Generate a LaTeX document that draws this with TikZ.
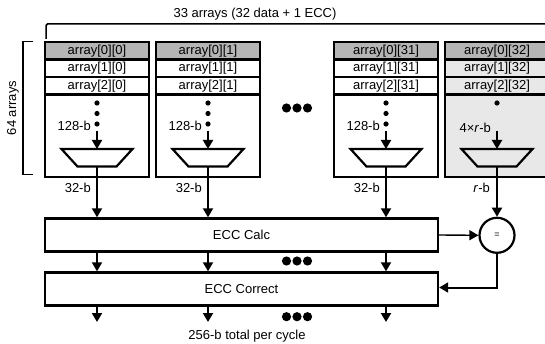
\documentclass[tikz,border=0pt]{standalone}
\usepackage{fontspec}
\setmainfont{Liberation Sans}
\usetikzlibrary{arrows.meta,shapes.geometric}
\definecolor{hdrgray}{HTML}{B5B5B5}
\definecolor{eccgray}{HTML}{E8E8E8}
\begin{document}
\begin{tikzpicture}[x=1pt,y=-1pt,
  font=\fontsize{13}{15}\selectfont,
  colbox/.style={draw, line width=2.6pt, minimum width=104pt, minimum height=135pt, inner sep=0pt},
  rowbox/.style={draw, line width=2.2pt, minimum width=104pt, minimum height=17.5pt, inner sep=0pt},
  blockbox/.style={draw, line width=2.4pt, minimum width=393pt, minimum height=33pt, inner sep=0pt},
  muxshape/.style={draw, line width=2.2pt, line join=miter},
  arr/.style={line width=2pt, -{Triangle[length=9pt,width=10pt]}},
  thinarr/.style={line width=1.4pt, -{Triangle[length=9pt,width=10pt]}},
  bigdot/.style={fill=black, draw=none},
  smalldot/.style={fill=black, draw=none},
  lbl/.style={inner sep=0pt, anchor=east}]
\useasboundingbox (0,0) rectangle (545,344);

% top bracket
\node[inner sep=0pt] (toptext) at (255,14) {33 arrays (32 data + 1 ECC)};
\coordinate (tbl) at (46,39);
\coordinate (tbc) at (46,24);
\coordinate (tbr) at (560,24);
\draw[line width=1.5pt, rounded corners=1.5pt] (tbl) -- (tbc) -- (tbr);

% left brace
\node[inner sep=0pt, rotate=90] (lefttext) at (13,108) {64 arrays};
\coordinate (lb1) at (33,41.5);
\coordinate (lb2) at (23,41.5);
\coordinate (lb3) at (23,174.5);
\coordinate (lb4) at (33,174.5);
\draw[line width=1.3pt] (lb1) -- (lb2) -- (lb3) -- (lb4);

% columns
\foreach \cx/\id/\lab/\fillc in {97/1/0/white, 208/2/1/white, 386/3/31/white, 497/4/32/eccgray} {
  \node[colbox, fill=\fillc] (col\id) at (\cx,109.5) {};
  \node[rowbox, fill=hdrgray] (r0c\id) at (\cx,50.75) {array[0][\lab]};
  \node[rowbox, fill=\fillc] (r1c\id) at (\cx,68.25) {array[1][\lab]};
  \node[rowbox, fill=\fillc] (r2c\id) at (\cx,85.75) {array[2][\lab]};
  \draw[muxshape] (\cx-35.5,149) -- (\cx+35.5,149) -- (\cx+19.5,166.5) -- (\cx-19.5,166.5) -- cycle;
  \coordinate (muxtop\id) at (\cx,149);
  \coordinate (muxbot\id) at (\cx,166.5);
  \coordinate (mid\id) at (\cx,131);
}
% column dots
\foreach \cx in {97,208,386} {
  \fill[smalldot] (\cx,103) circle (2.6pt);
  \fill[smalldot] (\cx,113.5) circle (2.6pt);
  \fill[smalldot] (\cx,124) circle (2.6pt);
}
\fill[smalldot] (497,103) circle (2.6pt);

% internal arrows and labels
\foreach \id in {1,2,3} {
  \draw[arr] (mid\id) -- (muxtop\id);
  \node[lbl] at ([xshift=-6pt,yshift=5pt]mid\id) {128-b};
}
\draw[arr] (mid4) -- (muxtop4);
\node[lbl] at ([xshift=-6pt,yshift=3.5pt]mid4) {4×\textit{r}-b};

% ECC blocks
\node[blockbox] (calc) at (241.5,235) {ECC Calc};
\node[blockbox] (corr) at (241.5,289) {ECC Correct};
\node[draw, circle, line width=2.2pt, minimum size=35pt, inner sep=0pt, font=\fontsize{9}{10}\selectfont] (cmp) at (497,235.3) {=};

% arrows from muxes
\foreach \id/\cx in {1/97, 2/208, 3/386} {
  \draw[arr] (muxbot\id) -- (calc.north -| muxbot\id);
  \node[lbl] at (\cx-6,188) {32-b};
  \draw[arr] (calc.south -| muxbot\id) -- (corr.north -| muxbot\id);
  \coordinate (out\id) at (\cx,322);
  \draw[arr] (corr.south -| muxbot\id) -- (out\id);
}
\draw[arr] (muxbot4) -- (cmp.north);
\node[lbl] at (490,188) {\textit{r}-b};

\draw[thinarr] (calc.east) -- (cmp.west);
\draw[arr, line join=miter] (cmp.south) |- ([yshift=1.5pt]corr.east);

% ellipsis dots
\foreach \y in {108,261,316.7} {
  \fill[bigdot] (286.5,\y) circle (4.6pt);
  \fill[bigdot] (297,\y) circle (4.6pt);
  \fill[bigdot] (307.5,\y) circle (4.6pt);
}

\node[inner sep=0pt] (total) at (247,336.5) {256-b total per cycle};
\end{tikzpicture}
\end{document}
